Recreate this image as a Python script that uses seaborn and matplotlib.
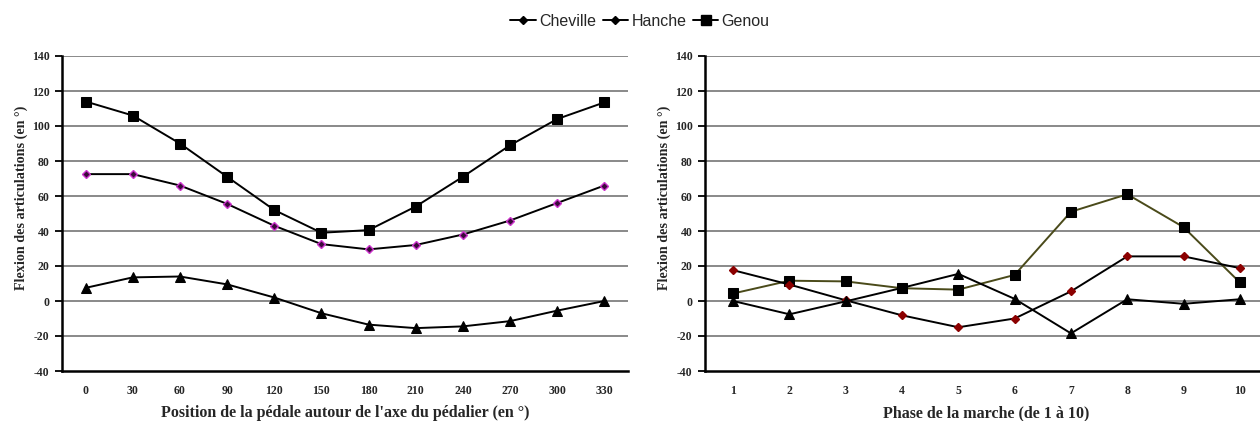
import numpy as np
import pandas as pd
import matplotlib
matplotlib.use("Agg")
import matplotlib.pyplot as plt
from matplotlib.lines import Line2D
import seaborn as sns

# Left chart: pedalling cycle (pedal position in degrees)
pedal_pos = ["0", "30", "60", "90", "120", "150", "180", "210", "240", "270", "300", "330"]
pedal_genou = [114, 106, 90, 71, 52, 39, 40.5, 54, 71, 89, 104, 113.5]
pedal_hanche = [72.5, 72.5, 66, 55.5, 43, 32.5, 29.5, 32, 38, 46, 56, 66]
pedal_cheville = [7.5, 13.5, 14, 9.5, 2, -7, -13.5, -15.5, -14.5, -11.5, -5.5, 0]

# Right chart: walking phases 1..10
walk_phase = ["1", "2", "3", "4", "5", "6", "7", "8", "9", "10"]
walk_genou = [4.3, 11.6, 11.2, 7.3, 6.5, 14.9, 51, 61, 42.2, 10.6]
walk_hanche = [17.6, 9.4, 0.4, -8.2, -15, -10, 5.5, 25.5, 25.5, 18.8]
walk_cheville = [0, -7.6, -0.2, 7.5, 15.5, 1.2, -18.5, 1, -1.6, 1]

y_ticks = [-40, -20, 0, 20, 40, 60, 80, 100, 120, 140]

sns.set_style("white")
plt.rcParams['font.family'] = ['Liberation Serif', 'DejaVu Serif']

fig = plt.figure(figsize=(12.6, 4.21), dpi=100)
ax1 = fig.add_axes([62 / 1260, 1 - 371 / 421, 566 / 1260, 315 / 421])
ax2 = fig.add_axes([705 / 1260, 1 - 371 / 421, 563 / 1260, 315 / 421])


def draw(ax, cats, genou, hanche, cheville, genou_color, hanche_color, hanche_edge, xlabel):
    df = pd.DataFrame({"x": cats, "Genou": genou, "Hanche": hanche, "Cheville": cheville})
    sns.lineplot(data=df, x="x", y="Genou", ax=ax, color=genou_color, lw=1.4,
                 marker="s", markersize=7.5, markerfacecolor="black",
                 markeredgecolor="black", sort=False, zorder=4)
    sns.lineplot(data=df, x="x", y="Hanche", ax=ax, color="black", lw=1.4,
                 marker="D", markersize=4.5, markerfacecolor=hanche_color,
                 markeredgecolor=hanche_edge, markeredgewidth=1, sort=False, zorder=4)
    sns.lineplot(data=df, x="x", y="Cheville", ax=ax, color="black", lw=1.4,
                 marker="^", markersize=6.5, markerfacecolor="black",
                 markeredgecolor="black", sort=False, zorder=4)

    n = len(cats)
    ax.set_xlim(-0.5, n - 0.5)
    ax.set_ylim(-40, 140)
    ax.set_yticks(y_ticks)
    ax.set_yticklabels([str(v) for v in y_ticks], fontsize=8.5, fontweight="bold")
    ax.set_xticks(range(n))
    ax.set_xticklabels(cats, fontsize=8.5, fontweight="bold")
    ax.set_xticks(np.arange(-0.5, n, 1), minor=True)
    ax.tick_params(axis="x", which="major", length=0, pad=10)
    ax.tick_params(axis="x", which="minor", length=5, width=1.3, color="black", direction="out")
    ax.tick_params(axis="y", length=5, width=1.3, color="black", direction="out", pad=4, left=True)

    for v in y_ticks[1:]:
        ax.axhline(v, color="#808080", lw=1.3, zorder=1)

    for s in ["top", "right"]:
        ax.spines[s].set_visible(False)
    ax.spines["left"].set_color("black")
    ax.spines["left"].set_linewidth(1.8)
    ax.spines["bottom"].set_color("black")
    ax.spines["bottom"].set_linewidth(1.8)

    ax.set_xlabel(xlabel, fontsize=11.5, fontweight="bold", labelpad=6)
    ax.set_ylabel("Flexion des articulations (en °)", fontsize=10.2, fontweight="bold")
    ax.yaxis.set_label_coords(-0.06, 0.55)


draw(ax1, pedal_pos, pedal_genou, pedal_hanche, pedal_cheville,
     "black", "#3a0a3a", "#cc33cc",
     "Position de la pédale autour de l'axe du pédalier (en °)")
draw(ax2, walk_phase, walk_genou, walk_hanche, walk_cheville,
     "#4a4a1a", "#8b0000", "#8b0000",
     "Phase de la marche (de 1 à 10)")

handles = [
    Line2D([], [], color="black", lw=1.4, marker="D", markersize=4),
    Line2D([], [], color="black", lw=1.4, marker="D", markersize=4),
    Line2D([], [], color="black", lw=1.4, marker="s", markersize=7),
]
fig.legend(handles, ["Cheville", "Hanche", "Genou"], loc="center", ncol=3,
           bbox_to_anchor=(640 / 1260, 1 - 21 / 421), frameon=False,
           prop={"family": "Liberation Sans", "size": 11.5},
           handlelength=1.6, handletextpad=0.2, columnspacing=0.4)

plt.savefig("out.png", dpi=100)
